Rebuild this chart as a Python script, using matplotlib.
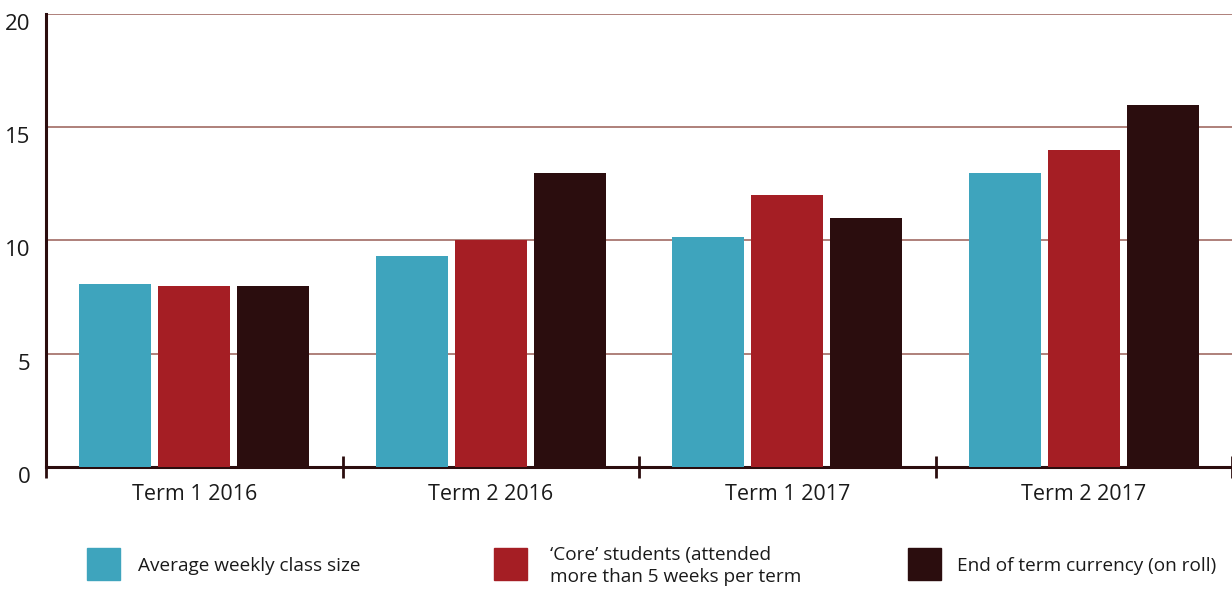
import numpy as np
import matplotlib.pyplot as plt
from matplotlib.patches import Rectangle

plt.rcParams['font.family'] = ['Open Sans', 'DejaVu Sans']

terms = ['Term 1 2016', 'Term 2 2016', 'Term 1 2017', 'Term 2 2017']
avg_class_size = [8.1, 9.3, 10.15, 13.0]
core_students = [8, 10, 12, 14]
end_currency = [8, 13, 11, 16]

series_names = ['Average weekly class size',
                "\u2018Core\u2019 students (attended\nmore than 5 weeks per term",
                'End of term currency (on roll)']
colors = ['#3ea4bd', '#a51e24', '#2b0d0e']

fig = plt.figure(figsize=(12.32, 5.93), dpi=100)
ax = fig.add_axes([46 / 1232, 1 - 467 / 593, 1 - 46 / 1232, (467 - 14) / 593])

x = np.arange(len(terms))
w = 0.243
step = 0.267
for i, vals in enumerate([avg_class_size, core_students, end_currency]):
    ax.bar(x + (i - 1) * step, vals, width=w, color=colors[i], zorder=3)

ax.set_xlim(-0.5, 3.5)
ax.set_ylim(0, 20)
ax.set_yticks([0, 5, 10, 15, 20])
ax.yaxis.grid(True, color='#a87670', linewidth=1.3, zorder=0)
ax.set_axisbelow(True)
ax.tick_params(axis='y', length=0, pad=11, labelsize=16, labelcolor='#1a1a1a')
for lbl in ax.get_yticklabels():
    lbl.set_verticalalignment('top')

ax.set_xticks(x)
ax.set_xticklabels(terms)
ax.set_xticks(np.arange(-0.5, 4.0, 1.0), minor=True)
ax.tick_params(axis='x', which='major', length=0, pad=12, labelsize=15.5, labelcolor='#1a1a1a')
ax.tick_params(axis='x', which='minor', length=16, width=2, direction='inout', color='#2b0d0e')

for s in ['top', 'right']:
    ax.spines[s].set_visible(False)
ax.spines['left'].set_color('#2b0d0e')
ax.spines['left'].set_linewidth(2.2)
ax.spines['bottom'].set_color('#2b0d0e')
ax.spines['bottom'].set_linewidth(2.2)

# legend drawn manually in figure pixels
patch_x = [87, 494, 908]
text_x = [138, 550, 957]
for px, tx, name, c in zip(patch_x, text_x, series_names, colors):
    fig.patches.append(Rectangle((px / 1232, 1 - 580 / 593), 33 / 1232, 32 / 593,
                                 transform=fig.transFigure, color=c))
    fig.text(tx / 1232, 1 - 566 / 593, name, fontsize=13.7, color='#1a1a1a',
             va='center', ha='left', linespacing=1.25)

fig.savefig('out.png', dpi=100)
